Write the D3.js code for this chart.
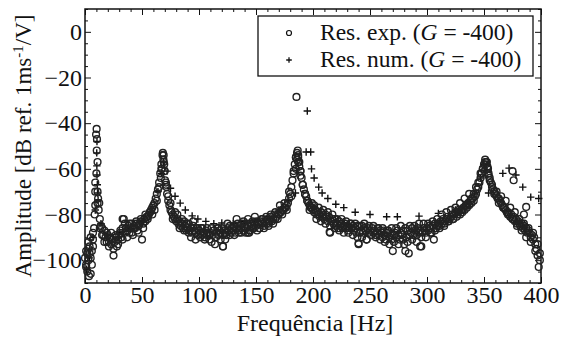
<!DOCTYPE html>
<html><head><meta charset="utf-8">
<script src="https://cdn.jsdelivr.net/npm/d3@7"></script>
<style>
body{margin:0;background:#fff}
svg{display:block}
</style></head>
<body><svg id="c" width="562" height="337" font-family="Liberation Serif"></svg>
<script>
// ---- data ----
const xTicks = [0, 50, 100, 150, 200, 250, 300, 350, 400];
const yTicks = [0, -20, -40, -60, -80, -100];
const xLabel = "Frequência [Hz]";
const legendLabels = ["Res. exp.", "Res. num."];
const gValue = "-400";

// experimental response, sampled every 1 Hz from 0 to 399 Hz
const expStartHz = 0;
const expAmp = [
 -99,-102,-105,-100,-97,-106,-96,-91,-86,-76,
 -62,-70,-78,-82,-85,-86,-89,-87,-90,-92,
 -89,-92,-90,-93,-91,-98,-92,-90,-94,-91,
 -89,-88,-90,-86,-82,-88,-86,-87,-85,-88,
 -86,-84,-89,-85,-86,-84,-87,-85,-84,-83,
 -91,-84,-82,-83,-81,-82,-80,-79,-78,-77,
 -76,-75,-73,-71,-69,-66,-62,-58,-54,-54,
 -61,-67,-71,-74,-76,-78,-79,-80,-81,-82,
 -83,-82,-84,-83,-85,-84,-86,-83,-85,-87,
 -86,-84,-87,-86,-88,-85,-87,-88,-86,-89,
 -87,-88,-86,-89,-88,-90,-87,-89,-88,-91,
 -88,-86,-89,-87,-93,-88,-86,-89,-87,-88,
 -86,-94,-87,-88,-89,-86,-87,-85,-88,-86,
 -87,-85,-88,-86,-84,-87,-85,-86,-84,-87,
 -85,-86,-84,-88,-87,-84,-85,-83,-86,-84,
 -85,-83,-84,-86,-83,-84,-82,-85,-83,-84,
 -82,-84,-83,-81,-83,-82,-80,-82,-81,-80,
 -80,-79,-79,-78,-78,-77,-77,-76,-75,-73,
 -71,-68,-65,-61,-58,-55,-53,-55,-59,-63,
 -64,-67,-69,-71,-72,-74,-75,-76,-77,-77,
 -78,-79,-78,-80,-79,-80,-81,-79,-81,-80,
 -82,-80,-81,-83,-81,-88,-83,-82,-84,-82,
 -85,-84,-86,-83,-85,-84,-86,-85,-84,-86,
 -85,-87,-86,-84,-86,-85,-87,-86,-88,-85,
 -93,-88,-87,-85,-88,-86,-87,-91,-86,-88,
 -87,-89,-86,-88,-87,-89,-88,-86,-89,-87,
 -88,-90,-87,-89,-91,-88,-87,-90,-89,-91,
 -96,-89,-88,-90,-87,-89,-91,-88,-89,-87,
 -93,-96,-90,-87,-97,-89,-88,-86,-89,-88,
 -87,-89,-86,-88,-87,-94,-88,-86,-87,-88,
 -86,-87,-85,-86,-88,-85,-91,-84,-86,-85,
 -84,-85,-83,-84,-82,-84,-83,-82,-81,-83,
 -82,-81,-80,-82,-80,-79,-81,-79,-78,-80,
 -78,-79,-77,-78,-76,-77,-75,-76,-74,-75,
 -73,-74,-72,-71,-69,-68,-66,-64,-62,-60,
 -58,-57,-57,-59,-62,-64,-66,-68,-69,-70,
 -71,-72,-73,-73,-74,-75,-76,-77,-77,-78,
 -79,-79,-80,-81,-80,-82,-81,-83,-82,-84,
 -83,-84,-85,-84,-86,-85,-87,-86,-88,-87,
 -88,-90,-89,-91,-90,-93,-95,-98,-103,-97
];
// second experimental pass, read every 2 Hz from 1 to 399 Hz (band spread)
const exp2StartHz = 1;
const expAmp2 = [
 -103,-95,-99,-94,-70,-75,-86,-89,-92,-88,
 -94,-88,-95,-89,-93,-87,-91,-84,-90,-84,
 -88,-86,-83,-88,-82,-86,-80,-81,-79,-80,
 -78,-74,-68,-60,-57,-66,-72,-75,-82,-79,
 -80,-86,-82,-87,-84,-88,-90,-83,-91,-86,
 -90,-86,-91,-86,-89,-92,-87,-90,-86,-91,
 -89,-91,-84,-89,-86,-89,-82,-88,-88,-83,
 -88,-82,-87,-86,-81,-87,-86,-82,-86,-81,
 -85,-80,-84,-79,-82,-76,-80,-75,-78,-70,
 -72,-62,-55,-57,-61,-67,-71,-74,-78,-75,
 -76,-82,-77,-83,-78,-84,-79,-85,-80,-86,
 -82,-87,-82,-88,-83,-88,-84,-89,-84,-90,
 -85,-90,-84,-91,-85,-89,-85,-90,-86,-91,
 -86,-92,-87,-93,-86,-92,-86,-93,-85,-91,
 -86,-92,-85,-91,-85,-92,-84,-90,-84,-90,
 -84,-88,-83,-87,-82,-86,-80,-85,-79,-83,
 -78,-82,-77,-80,-75,-78,-73,-76,-71,-73,
 -71,-68,-66,-62,-60,-56,-60,-65,-67,-71,
 -70,-75,-72,-77,-74,-80,-77,-82,-79,-85,
 -82,-87,-84,-90,-86,-92,-88,-96,-93,-100
];
// additional experimental points (peaks, outliers)
const expExtraHz  = [9.7,10.2,10.5,10.3,11,9,11.5,12.5,8.5,3,4,5,2,6,7,1,3.5,
                     68.3,68.8,69.5,67.5,70.2,66.5,71.5,
                     185.5,186.6,187,186,188,185,189,
                     352.5,351.5,353.5,350.5,354,375,376,387,385,
                     144,33,240,214.6,294,121];
const expExtraAmp = [-45,-42.5,-47,-52,-57,-66,-73,-75,-80,-92,-94,-90,-97,-102,-88,-96,-107,
                     -53,-56,-58,-60,-65,-64,-68,
                     -28.5,-52,-54,-56,-57,-60,-61,
                     -57,-58,-60,-61,-63,-61,-65,-76.7,-80,
                     -88,-82,-92.6,-87.7,-94,-94];

// numerical response
const numHz  = [1.5,4,7,9,10.5,10.3,10.4,10.5,10.8,11,11.5,14,20,30,40,50,58,64,67,69,
                72,75,79,83.5,88,94,99,106,113,120,130,140,150,160,170,178,184.6,
                195,194,198,198.7,201,205,208,213,220,227,237,250,264.6,274,293,310,
                325,335,342,347,350,354,366.5,372,378,384,391,398];
const numAmp = [-104,-99,-90,-78,-48,-53,-58.7,-62.7,-67,-70.6,-73.6,-84,-89,-88,-86,-83,-79,-70,-62,-57,
                -61,-68.5,-72,-75,-78,-80.6,-82,-83,-84,-83.7,-84,-83,-83,-81,-78,-74,-70.6,
                -34.7,-52.6,-52.6,-60,-64,-68,-70.6,-73,-75.5,-77,-79,-80,-81,-81,-80.7,-79.5,
                -78,-75,-71,-64,-58,-70.6,-62,-59.7,-62.7,-68,-72.4,-73];

// ---- chart ----
const FONT = "Liberation Serif";
const svg = d3.select("#c");
const L = 85, R = 541, T = 9, B = 283;
const x = d3.scaleLinear().domain([0, 400]).range([L, R]);
const y = d3.scaleLinear().domain([10, -110]).range([T, B]);

const expPts = expAmp.map((a, i) => [expStartHz + i, a])
  .concat(expAmp2.map((a, i) => [exp2StartHz + 2 * i, a]))
  .concat(expExtraHz.map((f, i) => [f, expExtraAmp[i]]));
const numPts = numHz.map((f, i) => [f, numAmp[i]]);

const xMinor = d3.range(0, 401, 10).filter(v => v % 50 !== 0);
const yMinor = d3.range(-110, 11, 5).filter(v => v % 20 !== 0);

function styleAxis(g) {
  g.attr("font-family", FONT).attr("font-size", 24);
  g.select(".domain").remove();
  g.selectAll("line").attr("stroke", "#111").attr("stroke-width", 1);
  g.selectAll("text").attr("font-family", FONT).attr("font-size", 24).attr("fill", "#111");
}

svg.append("g").attr("transform", `translate(0,${B})`)
  .call(d3.axisBottom(x).tickValues(xTicks).tickSize(-6).tickPadding(3).tickFormat(d3.format("d")))
  .call(styleAxis);
svg.append("g").attr("transform", `translate(0,${B})`)
  .call(d3.axisBottom(x).tickValues(xMinor).tickSize(-3).tickFormat(""))
  .call(styleAxis);
svg.append("g").attr("transform", `translate(0,${T})`)
  .call(d3.axisTop(x).tickValues(xTicks).tickSize(-6).tickFormat(""))
  .call(styleAxis);
svg.append("g").attr("transform", `translate(0,${T})`)
  .call(d3.axisTop(x).tickValues(xMinor).tickSize(-3).tickFormat(""))
  .call(styleAxis);

svg.append("g").attr("transform", `translate(${L},0)`)
  .call(d3.axisLeft(y).tickValues(yTicks).tickSize(-6).tickPadding(3).tickFormat(d3.format("d")))
  .call(styleAxis);
svg.append("g").attr("transform", `translate(${L},0)`)
  .call(d3.axisLeft(y).tickValues(yMinor).tickSize(-3).tickFormat(""))
  .call(styleAxis);
svg.append("g").attr("transform", `translate(${R},0)`)
  .call(d3.axisRight(y).tickValues(yTicks).tickSize(-6).tickFormat(""))
  .call(styleAxis);
svg.append("g").attr("transform", `translate(${R},0)`)
  .call(d3.axisRight(y).tickValues(yMinor).tickSize(-3).tickFormat(""))
  .call(styleAxis);

svg.append("rect").attr("x", L).attr("y", T).attr("width", R - L).attr("height", B - T)
  .attr("fill", "none").attr("stroke", "#111").attr("stroke-width", 1.5);

// numerical (+)
const plus = (s) => `M${-s},0H${s}M0,${-s}V${s}`;
svg.append("g").selectAll("path").data(numPts).join("path")
  .attr("transform", d => `translate(${x(d[0])},${y(d[1])})`)
  .attr("d", plus(3.7)).attr("stroke", "#111").attr("stroke-width", 1.4).attr("fill", "none");

// experimental (o)
svg.append("g").selectAll("circle").data(expPts).join("circle")
  .attr("cx", d => x(d[0])).attr("cy", d => y(d[1])).attr("r", 3.4)
  .attr("fill", "none").attr("stroke", "#222").attr("stroke-width", 1.4);

// legend
const lg = svg.append("g");
lg.append("rect").attr("x", 258).attr("y", 16).attr("width", 275).attr("height", 60)
  .attr("fill", "#fff").attr("stroke", "#111").attr("stroke-width", 1.3);
lg.append("circle").attr("cx", 289).attr("cy", 33).attr("r", 2.5)
  .attr("fill", "none").attr("stroke", "#111").attr("stroke-width", 1.2);
lg.append("path").attr("transform", "translate(289,60)").attr("d", plus(2.8))
  .attr("stroke", "#111").attr("stroke-width", 1.3);
[40, 67].forEach((yy, i) => {
  const t = lg.append("text").attr("x", 320).attr("y", yy)
    .attr("font-family", FONT).attr("font-size", 23.5).attr("fill", "#111");
  t.append("tspan").text(legendLabels[i] + " (");
  t.append("tspan").attr("font-style", "italic").text("G");
  t.append("tspan").text(" = " + gValue + ")");
});

// axis titles
svg.append("text").attr("x", 315).attr("y", 331).attr("text-anchor", "middle")
  .attr("font-family", FONT).attr("font-size", 24).attr("fill", "#111").text(xLabel);
const yt = svg.append("text").attr("transform", "translate(31,146) rotate(-90)")
  .attr("text-anchor", "middle").attr("font-family", FONT).attr("font-size", 23).attr("fill", "#111");
yt.append("tspan").text("Amplitude [dB ref. 1ms");
yt.append("tspan").attr("font-size", 15).attr("dy", -8).text("-1");
yt.append("tspan").attr("dy", 8).text("/V]");
</script></body></html>
